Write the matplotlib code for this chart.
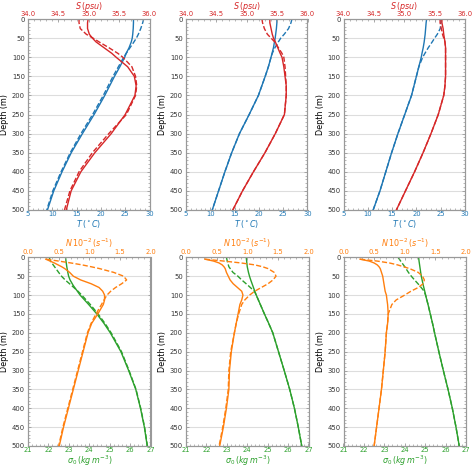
import numpy as np
import matplotlib
matplotlib.use("Agg")
import matplotlib.pyplot as plt
from matplotlib.ticker import AutoMinorLocator

# === DATA ===
# depths (m) for T, S and sigma_0
depth = [0, 10, 25, 40, 50, 60, 75, 90, 100, 125, 150, 175, 200, 250, 300, 350, 400, 450, 500]
# depths (m) for N (starts a few metres below the surface)
depth_n = [5, 10, 15, 20, 25, 30, 40, 50, 60, 70, 80, 90, 100, 113, 125, 150, 175, 200, 250, 300, 350, 400, 450, 500]

# temperature (deg C), solid / dashed
t_solid_1 = [26.7, 26.7, 26.65, 26.55, 26.45, 26.25, 25.8, 25.2, 24.9, 23.9, 22.8, 21.8, 20.8, 18.6, 16.2, 13.9, 12.0, 10.3, 9.0]
t_dash_1 = [28.8, 28.6, 28.2, 27.7, 27.3, 26.8, 26.0, 25.2, 24.7, 23.6, 22.5, 21.5, 20.5, 18.3, 15.9, 13.7, 11.8, 10.1, 8.85]
t_solid_2 = [23.7, 23.7, 23.6, 23.45, 23.35, 23.2, 23.0, 22.7, 22.5, 21.95, 21.3, 20.6, 19.9, 18.0, 16.0, 14.4, 13.0, 11.7, 10.4]
t_dash_2 = [26.8, 26.6, 26.1, 25.2, 24.5, 24.0, 23.3, 22.75, 22.5, 21.95, 21.3, 20.6, 19.9, 18.0, 16.0, 14.4, 13.0, 11.7, 10.4]
t_solid_3 = [22.1, 22.0, 21.9, 21.8, 21.7, 21.6, 21.4, 21.15, 21.0, 20.5, 20.0, 19.5, 19.0, 17.6, 16.2, 14.9, 13.7, 12.5, 11.1]
t_dash_3 = [25.1, 25.05, 24.9, 24.3, 23.75, 23.25, 22.45, 21.75, 21.3, 20.5, 20.0, 19.5, 19.0, 17.6, 16.2, 14.9, 13.7, 12.5, 11.1]

# salinity (psu), solid / dashed
s_solid_1 = [34.99, 34.98, 34.98, 35.01, 35.06, 35.12, 35.25, 35.38, 35.45, 35.64, 35.75, 35.78, 35.76, 35.60, 35.37, 35.10, 34.87, 34.71, 34.63]
s_dash_1 = [34.84, 34.84, 34.86, 34.96, 35.07, 35.17, 35.33, 35.48, 35.56, 35.71, 35.77, 35.79, 35.77, 35.62, 35.33, 35.06, 34.84, 34.69, 34.60]
s_solid_2 = [35.38, 35.38, 35.40, 35.42, 35.44, 35.47, 35.51, 35.55, 35.58, 35.61, 35.63, 35.65, 35.65, 35.62, 35.47, 35.30, 35.11, 34.93, 34.77]
s_dash_2 = [35.25, 35.26, 35.29, 35.34, 35.40, 35.46, 35.52, 35.58, 35.61, 35.63, 35.64, 35.65, 35.65, 35.62, 35.47, 35.30, 35.11, 34.93, 34.77]
s_solid_3 = [35.62, 35.62, 35.64, 35.65, 35.66, 35.67, 35.68, 35.68, 35.68, 35.68, 35.68, 35.67, 35.65, 35.56, 35.44, 35.31, 35.17, 35.02, 34.87]
s_dash_3 = [35.59, 35.59, 35.61, 35.63, 35.65, 35.67, 35.68, 35.68, 35.68, 35.68, 35.68, 35.67, 35.65, 35.56, 35.44, 35.31, 35.17, 35.02, 34.87]

# potential density anomaly (kg m-3), solid / dashed
sig_solid_1 = [22.84, 22.86, 22.9, 22.95, 22.99, 23.06, 23.22, 23.42, 23.55, 23.97, 24.37, 24.72, 25.03, 25.55, 25.93, 26.28, 26.51, 26.70, 26.84]
sig_dash_1 = [22.04, 22.1, 22.3, 22.5, 22.64, 22.82, 23.14, 23.45, 23.63, 24.05, 24.43, 24.77, 25.07, 25.58, 25.95, 26.29, 26.52, 26.71, 26.85]
sig_solid_2 = [23.95, 23.97, 24.0, 24.06, 24.11, 24.17, 24.27, 24.37, 24.44, 24.64, 24.84, 25.05, 25.25, 25.53, 25.81, 26.08, 26.31, 26.50, 26.67]
sig_dash_2 = [22.98, 23.02, 23.10, 23.30, 23.54, 23.73, 24.05, 24.35, 24.44, 24.64, 24.84, 25.05, 25.25, 25.53, 25.81, 26.08, 26.31, 26.50, 26.67]
sig_solid_3 = [24.68, 24.70, 24.74, 24.78, 24.81, 24.85, 24.91, 24.98, 25.02, 25.14, 25.25, 25.36, 25.46, 25.67, 25.89, 26.12, 26.33, 26.51, 26.67]
sig_dash_3 = [23.67, 23.80, 24.0, 24.18, 24.32, 24.48, 24.73, 24.95, 25.02, 25.14, 25.25, 25.36, 25.46, 25.67, 25.89, 26.12, 26.33, 26.51, 26.67]

# buoyancy frequency N (1e-2 s-1), solid / dashed
n_solid_1 = [0.29, 0.36, 0.43, 0.49, 0.55, 0.60, 0.68, 0.74, 0.86, 1.03, 1.16, 1.22, 1.25, 1.25, 1.23, 1.14, 1.04, 0.98, 0.90, 0.82, 0.74, 0.66, 0.58, 0.51]
n_dash_1 = [0.30, 0.50, 0.70, 0.88, 1.03, 1.17, 1.40, 1.56, 1.61, 1.53, 1.43, 1.35, 1.29, 1.24, 1.20, 1.11, 1.03, 0.97, 0.89, 0.81, 0.73, 0.65, 0.57, 0.50]
n_solid_2 = [0.31, 0.45, 0.54, 0.59, 0.62, 0.64, 0.66, 0.69, 0.72, 0.77, 0.84, 0.91, 0.93, 0.91, 0.88, 0.85, 0.82, 0.79, 0.74, 0.71, 0.70, 0.66, 0.61, 0.55]
n_dash_2 = [0.31, 0.62, 0.90, 1.12, 1.25, 1.34, 1.44, 1.47, 1.42, 1.34, 1.23, 1.12, 1.04, 0.96, 0.91, 0.86, 0.82, 0.79, 0.73, 0.70, 0.69, 0.65, 0.60, 0.54]
n_solid_3 = [0.27, 0.42, 0.50, 0.55, 0.58, 0.60, 0.62, 0.64, 0.65, 0.66, 0.67, 0.68, 0.70, 0.71, 0.72, 0.73, 0.72, 0.70, 0.68, 0.65, 0.62, 0.58, 0.54, 0.50]
n_dash_3 = [0.27, 0.55, 0.75, 0.88, 0.98, 1.08, 1.22, 1.29, 1.32, 1.30, 1.22, 1.10, 1.00, 0.86, 0.79, 0.73, 0.72, 0.70, 0.68, 0.65, 0.62, 0.58, 0.54, 0.50]

# === STYLE ===
C_T = "#1f77b4"
C_S = "#d62728"
C_SIG = "#2ca02c"
C_N = "#ff7f0e"
LW = 1.0
TICK_FS = 4.9
LABEL_FS = 5.8
LEFTS = [28, 186, 343.5]   # px
W_PX, H_PX = 474, 468


def style_ticks(ax):
    for sp in ax.spines.values():
        sp.set_color("#999999")
    ax.tick_params(which="both", direction="in", color="#999999", right=True)
    ax.tick_params(which="major", length=2.5, width=0.6)
    ax.tick_params(which="minor", length=1.5, width=0.5)


def style_depth_axis(ax):
    ax.set_ylim(500, 0)
    ax.set_yticks(np.arange(0, 501, 50))
    ax.yaxis.set_minor_locator(AutoMinorLocator(5))
    ax.grid(axis="y", which="major", color="#dddddd", lw=0.8)
    ax.set_axisbelow(True)
    ax.set_ylabel("Depth (m)", fontsize=LABEL_FS, labelpad=2)
    ax.tick_params(axis="y", labelsize=TICK_FS, pad=2.2, labelcolor="#333333")
    style_ticks(ax)


def style_x(ax, color, lo, hi, step, fmt, pad):
    ax.set_xlim(lo, hi)
    ax.set_xticks(np.arange(lo, hi + step / 2, step))
    ax.xaxis.set_major_formatter(plt.FormatStrFormatter(fmt))
    ax.xaxis.set_minor_locator(AutoMinorLocator(5))
    ax.tick_params(axis="x", labelsize=TICK_FS, pad=pad, labelcolor=color)


fig = plt.figure(figsize=(W_PX / 100, H_PX / 100), dpi=100)

top_T = [(t_solid_1, t_dash_1), (t_solid_2, t_dash_2), (t_solid_3, t_dash_3)]
top_S = [(s_solid_1, s_dash_1), (s_solid_2, s_dash_2), (s_solid_3, s_dash_3)]
bot_sig = [(sig_solid_1, sig_dash_1), (sig_solid_2, sig_dash_2), (sig_solid_3, sig_dash_3)]
bot_N = [(n_solid_1, n_dash_1), (n_solid_2, n_dash_2), (n_solid_3, n_dash_3)]

for i in range(3):
    # === TOP ROW: T and S ===
    ax = fig.add_axes([LEFTS[i] / W_PX, 1 - 210 / H_PX, 121.5 / W_PX, 191 / H_PX])
    style_depth_axis(ax)
    ax.plot(top_T[i][0], depth, color=C_T, lw=LW)
    ax.plot(top_T[i][1], depth, color=C_T, lw=LW, ls="--")
    style_x(ax, C_T, 5, 30, 5, "%d", 0.8)
    ax.set_xlabel(r"$T\,(^\circ C)$", color=C_T, fontsize=LABEL_FS, labelpad=0.3)

    ax2 = ax.twiny()
    ax2.plot(top_S[i][0], depth, color=C_S, lw=LW)
    ax2.plot(top_S[i][1], depth, color=C_S, lw=LW, ls="--")
    style_x(ax2, C_S, 34.0, 36.0, 0.5, "%.1f", 1.3)
    ax2.set_ylim(500, 0)
    style_ticks(ax2)
    ax2.set_xlabel(r"$S\,(psu)$", color=C_S, fontsize=LABEL_FS, labelpad=1.8)

    # === BOTTOM ROW: sigma_0 and N ===
    bx = fig.add_axes([LEFTS[i] / W_PX, 1 - 446 / H_PX, 122.5 / W_PX, 188.7 / H_PX])
    style_depth_axis(bx)
    bx.plot(bot_sig[i][0], depth, color=C_SIG, lw=LW)
    bx.plot(bot_sig[i][1], depth, color=C_SIG, lw=LW, ls="--")
    style_x(bx, C_SIG, 21, 27, 1, "%d", 0.8)
    bx.set_xlabel(r"$\sigma_0\,(kg\,m^{-3})$", color=C_SIG, fontsize=LABEL_FS, labelpad=0.3)

    bx2 = bx.twiny()
    bx2.plot(bot_N[i][0], depth_n, color=C_N, lw=LW)
    bx2.plot(bot_N[i][1], depth_n, color=C_N, lw=LW, ls="--")
    style_x(bx2, C_N, 0.0, 2.0, 0.5, "%.1f", 1.3)
    bx2.set_ylim(500, 0)
    style_ticks(bx2)
    bx2.set_xlabel(r"$N\,10^{-2}\,(s^{-1})$", color=C_N, fontsize=LABEL_FS, labelpad=1.8)

fig.savefig("out.png", dpi=100)
